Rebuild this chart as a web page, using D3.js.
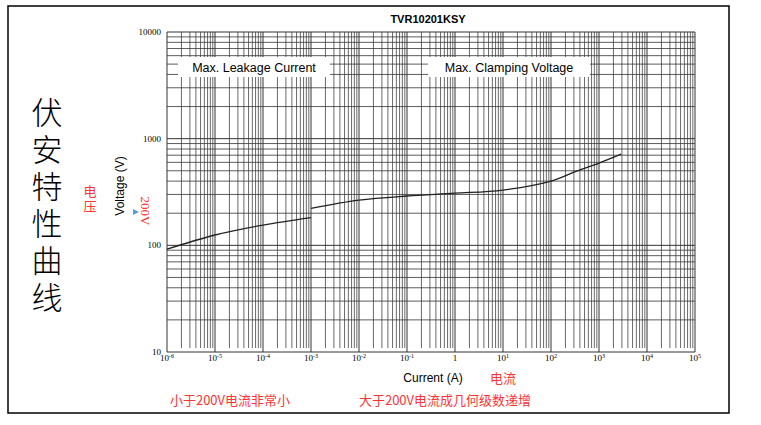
<!DOCTYPE html>
<html><head><meta charset="utf-8">
<script src="https://cdn.jsdelivr.net/npm/d3@7"></script>
<style>body{margin:0;background:#fff}</style></head>
<body><svg id="c" width="761" height="425"></svg>
<script>
// leakage region (A, V)
const leakI = [1e-6, 1e-5, 1e-4, 1e-3];
const leakV = [92, 125, 155, 182];
// clamping region (A, V)
const clampI = [1e-3, 1e-2, 1e-1, 1, 10, 100, 300, 1000, 2900];
const clampV = [222, 265, 290, 308, 330, 400, 485, 590, 715];
const xTickExp = [-6,-5,-4,-3,-2,-1,0,1,2,3,4,5];
const yTicks = [10, 100, 1000, 10000];

const svg = d3.select('#c');
const x = d3.scaleLog().domain([1e-6, 1e5]).range([167, 695]);
const y = d3.scaleLog().domain([10, 10000]).range([352, 32]);

svg.append('rect').attr('x', 8).attr('y', 6).attr('width', 721).attr('height', 407)
  .attr('fill', 'none').attr('stroke', '#000').attr('stroke-width', 1.5);

const g = svg.append('g');
// vertical grid
for (let e = -6; e <= 5; e++) {
  for (let m = 1; m <= 9; m++) {
    if (e === 5 && m > 1) break;
    const xv = x(m * Math.pow(10, e));
    g.append('line').attr('x1', xv).attr('x2', xv).attr('y1', 32).attr('y2', m === 1 ? 352 : 348)
      .attr('stroke', m === 1 ? '#999' : '#444').attr('stroke-width', m === 1 ? 2 : 0.8);
  }
}
// horizontal grid
for (let e = 1; e <= 4; e++) {
  for (let m = 1; m <= 9; m++) {
    if (e === 4 && m > 1) break;
    const yv = y(m * Math.pow(10, e));
    g.append('line').attr('x1', 167).attr('x2', 695).attr('y1', yv).attr('y2', yv)
      .attr('stroke', '#333').attr('stroke-width', m === 1 ? 1 : 0.8);
  }
}

// tick labels
svg.selectAll('.yt').data(yTicks).join('text')
  .attr('x', 161).attr('y', d => y(d) + 3).attr('text-anchor', 'end')
  .attr('font-family', 'Liberation Serif').attr('font-size', 9).text(d => d);
const xt = svg.selectAll('.xt').data(xTickExp).join('text')
  .attr('x', d => x(Math.pow(10, d))).attr('y', 361).attr('text-anchor', 'middle')
  .attr('font-family', 'Liberation Serif').attr('font-size', 9);
xt.each(function(d) {
  const t = d3.select(this);
  if (d === 0) { t.text('1'); return; }
  t.append('tspan').text('10');
  t.append('tspan').attr('font-size', 6).attr('dy', -3).text(d);
});

// label boxes
[[178, 152, 'Max. Leakage Current'], [428, 162, 'Max. Clamping Voltage']].forEach(b => {
  svg.append('rect').attr('x', b[0]).attr('y', 57).attr('width', b[1]).attr('height', 20).attr('fill', '#fff');
  svg.append('text').attr('x', b[0] + b[1] / 2).attr('y', 72).attr('text-anchor', 'middle')
    .attr('font-family', 'Liberation Sans').attr('font-size', 12.5).text(b[2]);
});

// curves
const line = d3.line().x(d => x(d[0])).y(d => y(d[1])).curve(d3.curveCatmullRom);
svg.append('path').attr('d', line(leakI.map((v, i) => [v, leakV[i]])))
  .attr('fill', 'none').attr('stroke', '#222').attr('stroke-width', 1.3);
svg.append('path').attr('d', line(clampI.map((v, i) => [v, clampV[i]])))
  .attr('fill', 'none').attr('stroke', '#222').attr('stroke-width', 1.3);

// titles
svg.append('text').attr('x', 428).attr('y', 23).attr('text-anchor', 'middle')
  .attr('font-family', 'Liberation Sans').attr('font-weight', 'bold').attr('font-size', 11).text('TVR10201KSY');
svg.append('text').attr('x', 433).attr('y', 382).attr('text-anchor', 'middle')
  .attr('font-family', 'Liberation Sans').attr('font-size', 12).text('Current (A)');
svg.append('text').attr('transform', 'translate(124,186) rotate(-90)').attr('text-anchor', 'middle')
  .attr('font-family', 'Liberation Sans').attr('font-size', 12).text('Voltage  (V)');
svg.append('text').attr('transform', 'translate(141,211) rotate(90)').attr('text-anchor', 'middle')
  .attr('font-family', 'Liberation Serif').attr('font-size', 13).attr('fill', '#f33').text('200V');
svg.append('path').attr('d', 'M133,209 L139,212 L133,215 Z').attr('fill', '#5b9bd5');

const cn = 'Noto Sans CJK SC';
svg.append('text').attr('x', 47).attr('y', 97).style('writing-mode', 'vertical-rl')
  .attr('font-family', cn).attr('font-weight', 300).attr('font-size', 31)
  .attr('letter-spacing', 6).text('伏安特性曲线');
svg.append('text').attr('x', 90).attr('y', 185).style('writing-mode', 'vertical-rl')
  .attr('font-family', cn).attr('font-size', 13).attr('letter-spacing', 2)
  .attr('fill', '#f33').text('电压');
svg.append('text').attr('x', 503).attr('y', 383).attr('text-anchor', 'middle')
  .attr('font-family', cn).attr('font-size', 13).attr('fill', '#f33').text('电流');
svg.append('text').attr('x', 230).attr('y', 405).attr('text-anchor', 'middle')
  .attr('font-family', cn).attr('font-size', 13).attr('fill', '#f33').text('小于200V电流非常小');
svg.append('text').attr('x', 445).attr('y', 405).attr('text-anchor', 'middle')
  .attr('font-family', cn).attr('font-size', 13).attr('fill', '#f33').text('大于200V电流成几何级数递增');
</script></body></html>
